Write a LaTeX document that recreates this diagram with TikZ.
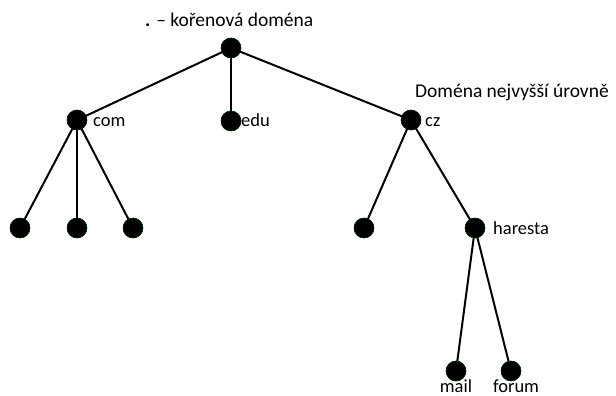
\documentclass[tikz,border=0pt]{standalone}
\usepackage{fontspec}
\setmainfont{Carlito}
\begin{document}
\begin{tikzpicture}[x=1pt,y=-1pt,
  dot/.style={circle,fill=black,draw=black!80!green,inner sep=0pt,minimum size=20pt},
  edge/.style={line width=2pt},
  lbl/.style={font=\fontsize{18.5}{21}\selectfont,inner sep=0pt,anchor=base west},
  biglbl/.style={lbl,font=\fontsize{19.5}{22}\selectfont}]
\useasboundingbox (0,0) rectangle (616,396);
% domain tree
\node[dot] (root) at (231,48) {};
\node[dot] (com) at (77,120) {};
\node[dot] (edu) at (231,121) {};
\node[dot] (cz) at (411,120) {};
\node[dot] (c1) at (20,228) {};
\node[dot] (c2) at (77,228) {};
\node[dot] (c3) at (133,228) {};
\node[dot] (z1) at (364,228) {};
\node[dot] (har) at (475,228) {};
\node[dot] (mail) at (456,371) {};
\node[dot] (forum) at (511,371) {};
% connectors
\begin{scope}[edge]
\draw (root.center) -- (com.center);
\draw (root.center) -- (edu.center);
\draw (root.center) -- (cz.center);
\draw (com.center) -- (c1.center);
\draw (com.center) -- (c2.center);
\draw (com.center) -- (c3.center);
\draw (cz.center) -- (z1.center);
\draw (cz.center) -- (har.center);
\draw (har.center) -- (mail.center);
\draw (har.center) -- (forum.center);
\end{scope}
% redraw dots on top of the lines
\foreach \p in {{231,48},{77,120},{231,121},{411,120},{20,228},{77,228},{133,228},{364,228},{475,228},{456,371},{511,371}}
  \node[dot] at (\p) {};
% labels
\node[biglbl] (troot) at (145,27) {\textbf{.} – kořenová doména};
\node[biglbl] (ttld) at (415,97) {Doména nejvyšší úrovně};
\node[lbl] (tcom) at (93,126) {com};
\node[lbl] (tedu) at (241,126) {edu};
\node[lbl] (tcz) at (425,126) {cz};
\node[lbl] (thar) at (493,234) {haresta};
\node[lbl,anchor=base] (tmail) at (456,392) {mail};
\node[lbl,anchor=base] (tforum) at (516,392) {forum};
\end{tikzpicture}
\end{document}
